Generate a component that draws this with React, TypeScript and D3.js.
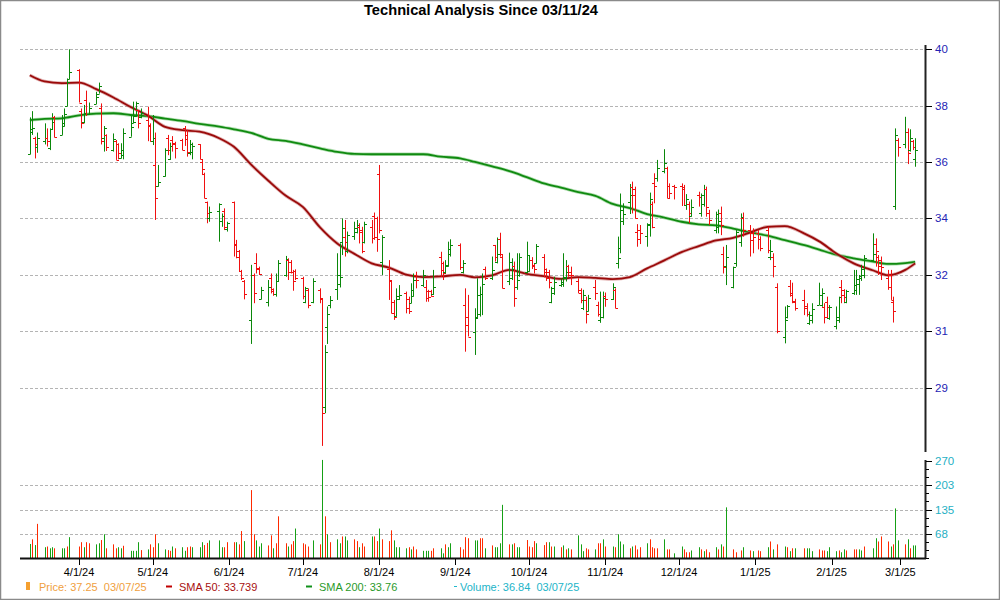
import React from 'react';
import * as d3 from 'd3';

// ---------- DATA ----------
const FIRST_DAY = '2024-03-12';
const LAST_DAY = '2025-03-07';
const HOLIDAYS = ['2024-03-29', '2024-05-27', '2024-07-04', '2024-09-02', '2024-11-28', '2024-12-25', '2025-01-01', '2025-01-09', '2025-01-20', '2025-02-17'];

const open = [
  36.46, 37.20, 37.00, 36.70,
  36.90, 37.00, 36.66, 37.30, 37.70,
  37.11, 37.40, 38.08, 38.98,
  39.30, 37.90, 37.55, 38.30, 37.80,
  38.15, 38.50, 38.00, 37.00, 37.10,
  36.60, 36.90, 36.80, 36.35, 36.60,
  37.05, 37.50, 37.75, 37.95, 37.70,
  37.60, 37.40, 36.90, 36.10, 35.40,
  35.73, 37.00, 36.30, 36.95, 36.80,
  36.95, 37.33, 37.10, 36.50, 36.55,
  36.80, 36.20, 35.80, 34.85, 34.30,
  34.55, 34.20, 34.55, 33.95,
  34.87, 33.45, 33.20, 32.55, 32.20,
  30.90, 32.40, 32.80, 32.65, 31.60,
  31.50, 32.30, 31.93, 31.75, 32.20,
  32.40, 32.90, 32.85, 32.50, 32.55,
  32.30, 31.50, 31.90, 31.50,
  31.90, 31.60, 27.97, 30.64, 31.40,
  31.92, 32.10, 33.50, 33.69, 33.20,
  33.70, 33.85, 34.00, 33.90, 33.50,
  34.00, 34.40, 34.30, 35.80, 32.83,
  32.60, 32.20, 31.50, 31.03, 31.60,
  31.78, 31.60, 31.45, 31.70, 32.40,
  32.05, 32.00, 31.85, 31.85, 31.75,
  33.00, 32.57, 32.50, 32.70, 33.10,
  33.40, 32.50, 31.39, 31.00,
  30.47, 31.00, 31.10, 31.75, 32.60,
  32.30, 33.40, 32.85, 33.60, 33.00,
  32.20, 32.30, 32.70, 32.00, 32.40,
  32.50, 32.55, 32.90, 32.70, 32.80,
  33.00, 32.60, 32.50, 31.50, 31.80,
  32.05, 32.10, 32.30, 32.70, 32.50,
  32.20, 31.80, 31.30, 31.55, 31.20,
  32.00, 31.40, 30.90, 31.00, 31.70,
  31.60, 31.90, 32.80, 33.30, 34.20,
  34.85, 35.35, 35.30, 33.85, 33.90,
  33.70, 34.10, 34.80, 35.50, 35.65,
  35.90, 36.00, 35.40, 35.40,
  35.40, 35.35, 34.75, 34.80, 34.40,
  35.10, 34.50, 34.80, 35.30, 34.50,
  33.90, 34.00, 34.50, 33.10, 32.70,
  32.00, 32.80, 33.50, 34.30,
  33.90, 33.80, 33.80, 33.60,
  33.90, 33.00, 33.00, 32.00,
  30.33, 31.00, 32.03, 31.72, 31.50,
  31.55, 31.35, 30.77, 30.90,
  31.40, 31.40, 31.33, 31.50, 30.95,
  30.70, 30.90, 32.00, 31.90, 31.50,
  31.80, 31.90, 32.10, 32.30, 32.40,
  32.90, 33.45, 33.00, 32.90,
  32.30, 32.40, 31.50, 34.72, 36.95,
  36.80, 37.20, 36.60, 36.90, 36.30,
];

const high = [
  37.70, 37.91, 37.05, 37.19,
  37.50, 37.33, 37.33, 37.84, 37.75,
  37.78, 38.00, 39.01, 39.99,
  39.32, 38.00, 38.12, 38.60, 38.20,
  38.56, 38.87, 38.17, 37.41, 37.13,
  37.16, 36.94, 36.83, 36.83, 37.33,
  37.75, 38.23, 38.23, 37.95, 38.00,
  38.06, 37.50, 37.78, 37.19, 36.10,
  36.66, 37.11, 36.85, 37.07, 36.88,
  36.98, 37.41, 37.28, 36.94, 36.85,
  36.80, 36.29, 35.84, 34.87, 34.70,
  34.81, 34.47, 34.64, 34.19,
  34.87, 33.58, 33.24, 32.57, 32.23,
  32.74, 32.45, 33.13, 32.68, 32.00,
  32.23, 32.45, 31.95, 32.45, 32.90,
  33.04, 32.96, 32.90, 32.57, 32.59,
  32.34, 32.00, 31.95, 32.29,
  31.95, 31.61, 30.04, 31.34, 31.69,
  33.13, 33.46, 34.30, 34.25, 33.86,
  34.19, 34.25, 34.14, 34.02, 34.19,
  34.25, 34.50, 34.36, 36.10, 33.74,
  32.90, 32.23, 31.56, 31.95, 32.06,
  31.84, 31.67, 32.12, 32.45, 32.51,
  32.57, 32.23, 31.90, 31.90, 32.57,
  33.18, 32.85, 32.90, 33.52, 33.60,
  33.46, 32.90, 31.95, 31.73,
  31.28, 32.29, 32.01, 32.45, 32.68,
  33.02, 33.41, 33.66, 33.82, 33.07,
  33.15, 32.96, 32.85, 33.13, 33.13,
  33.52, 33.07, 33.00, 32.79, 33.44,
  33.10, 32.62, 32.57, 32.00, 32.34,
  32.29, 33.13, 32.90, 32.74, 32.68,
  32.29, 31.95, 31.90, 31.67, 31.73,
  32.23, 31.50, 31.84, 31.84, 31.81,
  32.12, 31.95, 33.69, 35.14, 34.81,
  35.46, 35.54, 35.37, 34.11, 34.08,
  34.14, 35.17, 34.87, 35.82, 36.27,
  36.63, 36.04, 35.48, 35.43,
  35.48, 35.43, 35.12, 34.87, 34.94,
  35.20, 35.14, 35.43, 35.37, 34.59,
  34.53, 34.60, 34.70, 33.35, 33.41,
  32.68, 33.91, 34.47, 34.50,
  34.08, 33.97, 33.91, 33.70,
  34.02, 33.58, 33.13, 32.12,
  31.34, 31.39, 32.23, 32.14, 31.60,
  31.90, 31.45, 31.17, 31.45,
  32.14, 31.95, 31.45, 31.67, 31.39,
  31.34, 31.67, 32.23, 31.92, 31.90,
  32.57, 32.57, 32.40, 32.74, 33.07,
  33.80, 33.63, 33.07, 33.02,
  32.57, 32.57, 31.67, 37.33, 37.00,
  37.72, 37.33, 37.30, 36.94, 37.00,
];

const low = [
  36.46, 37.11, 36.32, 36.51,
  36.79, 36.72, 36.60, 37.30, 37.03,
  37.11, 37.39, 38.08, 38.98,
  38.20, 37.33, 37.50, 37.75, 37.78,
  38.15, 38.50, 36.79, 36.55, 36.57,
  36.55, 36.27, 36.29, 36.32, 36.29,
  37.05, 37.50, 37.72, 37.33, 37.67,
  36.90, 36.88, 36.77, 34.25, 35.37,
  35.71, 36.43, 36.27, 36.55, 36.32,
  36.60, 36.74, 36.38, 36.43, 36.29,
  36.29, 35.76, 34.98, 34.14, 34.19,
  33.52, 34.02, 33.91, 33.86,
  33.02, 32.96, 32.51, 32.23, 31.58,
  30.08, 31.45, 32.45, 32.40, 31.58,
  31.34, 31.78, 31.70, 31.67, 32.18,
  32.34, 32.23, 32.45, 31.87, 32.23,
  31.58, 31.45, 31.28, 31.45,
  31.45, 26.65, 27.75, 30.08, 31.28,
  31.56, 31.98, 33.07, 33.02, 33.13,
  33.58, 33.80, 33.46, 33.13, 33.46,
  33.46, 33.58, 33.18, 33.80, 32.40,
  31.56, 31.11, 30.89, 31.00, 31.56,
  31.11, 31.09, 31.45, 31.67, 31.95,
  32.00, 31.50, 31.50, 31.67, 31.73,
  32.34, 32.23, 32.45, 32.68, 33.02,
  32.57, 32.45, 29.82, 30.33,
  29.71, 30.94, 31.00, 31.05, 32.23,
  32.23, 32.85, 32.79, 33.02, 31.95,
  32.06, 32.23, 31.33, 31.90, 32.34,
  32.45, 32.51, 32.60, 32.45, 32.79,
  32.32, 32.20, 31.95, 31.45, 31.73,
  32.00, 32.00, 32.18, 32.34, 32.06,
  31.78, 31.45, 31.22, 30.77, 31.17,
  31.56, 31.00, 30.79, 30.94, 31.33,
  31.56, 31.28, 32.62, 33.13, 34.08,
  34.45, 34.47, 34.30, 33.35, 33.44,
  33.35, 33.69, 33.97, 34.81, 35.54,
  35.82, 34.98, 34.98, 34.94,
  34.72, 34.75, 34.59, 34.14, 34.36,
  34.70, 34.36, 34.70, 34.36, 34.08,
  33.80, 33.80, 33.74, 32.45, 32.06,
  31.95, 32.68, 33.35, 33.69,
  33.02, 33.13, 33.26, 33.20,
  33.13, 32.90, 32.32, 30.44,
  30.10, 30.94, 31.67, 31.45, 31.20,
  31.05, 31.00, 30.72, 30.77,
  31.39, 31.33, 30.77, 30.94, 30.89,
  30.57, 30.79, 31.45, 31.45, 31.45,
  31.73, 31.73, 31.73, 32.20, 32.29,
  32.85, 32.68, 32.40, 32.23,
  31.90, 31.56, 30.80, 34.59, 36.38,
  36.66, 36.13, 36.55, 36.60, 36.04,
];

const close = [
  37.30, 37.35, 36.80, 37.00,
  37.00, 36.90, 37.30, 37.55, 37.03,
  37.50, 37.80, 38.90, 39.24,
  38.20, 37.50, 37.85, 37.80, 38.00,
  38.40, 38.75, 36.90, 37.33, 36.70,
  36.96, 36.27, 36.50, 36.45, 37.16,
  37.37, 37.55, 38.20, 37.50, 37.85,
  37.45, 36.90, 37.00, 35.00, 35.54,
  36.62, 36.60, 36.75, 36.85, 36.66,
  36.62, 36.99, 36.55, 36.80, 36.75,
  36.30, 35.98, 34.98, 34.50, 34.53,
  34.78, 34.40, 34.00, 34.15,
  33.40, 33.00, 32.55, 32.30, 31.75,
  32.40, 31.78, 32.60, 32.42, 31.90,
  32.00, 31.85, 31.75, 32.20, 32.80,
  32.95, 32.50, 32.50, 32.20, 32.30,
  31.70, 31.95, 31.40, 32.20,
  31.61, 27.77, 29.80, 31.10, 31.55,
  32.40, 32.32, 33.97, 33.52, 33.74,
  33.97, 34.08, 33.85, 33.22, 34.11,
  33.63, 33.69, 33.60, 33.90, 33.69,
  32.23, 31.11, 31.00, 31.68, 31.73,
  31.30, 31.20, 31.90, 32.23, 32.23,
  32.40, 31.61, 31.67, 31.70, 32.00,
  32.79, 32.45, 32.73, 33.26, 33.41,
  32.68, 32.81, 30.72, 30.33,
  30.96, 31.73, 31.75, 32.10, 32.30,
  32.57, 33.00, 33.12, 33.10, 31.95,
  32.85, 32.60, 31.61, 32.23, 33.00,
  33.07, 32.90, 32.75, 32.60, 33.37,
  32.50, 32.30, 32.17, 31.95, 32.17,
  32.17, 32.34, 32.51, 32.40, 32.40,
  31.90, 31.55, 31.73, 31.10, 31.61,
  31.80, 31.10, 31.00, 31.61, 31.60,
  32.00, 31.28, 32.96, 34.60, 34.45,
  35.10, 35.10, 34.30, 33.60, 33.80,
  34.08, 34.95, 34.00, 35.38, 36.00,
  36.15, 35.00, 35.15, 35.35,
  35.30, 34.75, 34.97, 34.50, 34.70,
  35.03, 35.10, 35.30, 34.70, 34.25,
  34.45, 34.20, 34.08, 32.68, 33.00,
  32.66, 33.86, 34.36, 33.90,
  33.58, 33.69, 33.60, 33.30,
  33.24, 33.20, 32.70, 30.50,
  30.90, 31.35, 31.78, 31.53, 31.30,
  31.30, 31.09, 31.05, 31.25,
  31.73, 31.78, 31.00, 31.33, 31.33,
  31.00, 31.67, 31.73, 31.67, 31.87,
  32.06, 32.25, 32.35, 32.60, 32.96,
  33.10, 33.20, 32.70, 32.68,
  32.00, 31.56, 31.19, 37.10, 36.70,
  37.20, 36.50, 37.00, 36.70, 36.62,
];

const volume = [
  39, 52, 36, 95,
  30, 32, 27, 30, 27,
  27, 27, 32, 58,
  32, 44, 30, 44, 41,
  38, 41, 50, 66, 27,
  38, 27, 30, 27, 34,
  20, 20, 20, 44, 22,
  24, 38, 30, 66, 41,
  24, 22, 20, 32, 27,
  30, 20, 30, 32, 30,
  30, 44, 36, 42, 49,
  49, 30, 30, 44,
  44, 44, 38, 75, 47,
  189, 66, 49, 32, 41,
  35, 63, 27, 41, 116,
  41, 32, 38, 47, 82,
  41, 38, 32, 49,
  38, 273, 116, 66, 44,
  52, 41, 60, 60, 49,
  52, 47, 30, 41, 32,
  60, 60, 47, 82, 52,
  47, 77, 49, 30, 30,
  27, 30, 24, 32, 24,
  20, 20, 20, 20, 27,
  27, 13, 38, 30, 41,
  30, 24, 58, 55,
  49, 49, 55, 55, 27,
  35, 30, 30, 41, 148,
  38, 38, 41, 30, 30,
  50, 32, 30, 47, 41,
  36, 44, 44, 32, 32,
  30, 35, 24, 27, 24,
  63, 38, 19, 27, 24,
  24, 41, 41, 52, 32,
  32, 30, 66, 46, 38,
  27, 32, 35, 24, 30,
  41, 52, 30, 27, 27,
  52, 24, 24, 13,
  32, 24, 16, 16, 21,
  30, 24, 19, 24, 16,
  30, 24, 38, 32, 141,
  24, 16, 21, 30,
  21, 19, 21, 19,
  30, 46, 24, 38,
  32, 30, 19, 27, 27,
  27, 27, 27, 19,
  24, 21, 21, 19, 30,
  19, 21, 16, 24, 21,
  24, 24, 24, 21, 32,
  27, 55, 46, 60,
  46, 32, 38, 138, 49,
  38, 52, 27, 35, 35,
];

// 1 = up (green) volume bar, 0 = down (red)
const volumeUp = [
  1, 0, 1, 0,
  1, 0, 1, 1, 0,
  1, 1, 0, 1,
  0, 0, 1, 0, 0,
  1, 1, 0, 1, 0,
  0, 0, 1, 1, 0,
  1, 1, 1, 1, 0,
  1, 0, 0, 0, 1,
  1, 0, 0, 1, 0,
  1, 1, 0, 0, 1,
  1, 1, 0, 0, 1,
  1, 1, 0, 0,
  0, 1, 0, 0, 1,
  0, 0, 1, 1, 1,
  0, 0, 1, 0, 0,
  0, 1, 0, 0, 1,
  0, 0, 0, 1,
  0, 1, 0, 1, 0,
  1, 1, 0, 1, 1,
  0, 0, 1, 0, 0,
  1, 0, 0, 1, 0,
  0, 0, 1, 1, 1,
  1, 0, 1, 0, 0,
  1, 1, 1, 0, 0,
  1, 1, 0, 1, 1,
  0, 0, 0, 0,
  1, 1, 0, 0, 1,
  0, 1, 1, 1, 1,
  0, 1, 0, 1, 1,
  0, 0, 0, 0, 1,
  0, 0, 1, 0, 1,
  0, 1, 0, 1, 0,
  1, 1, 1, 0, 0,
  1, 0, 0, 1, 0,
  1, 0, 1, 1, 1,
  0, 1, 0, 0, 0,
  1, 0, 0, 0, 0,
  1, 0, 0, 1,
  1, 0, 0, 0, 1,
  1, 0, 1, 0, 0,
  1, 0, 1, 0, 1,
  0, 0, 0, 1,
  0, 1, 0, 0,
  1, 0, 1, 0,
  1, 0, 1, 0, 1,
  0, 1, 1, 1,
  0, 0, 0, 1, 1,
  1, 0, 1, 1, 0,
  0, 0, 1, 1, 0,
  1, 1, 0, 0,
  0, 1, 0, 1, 1,
  0, 1, 0, 1, 1,
];

const smaDates = [
  '2024-03-12', '2024-03-18', '2024-03-25', '2024-04-01', '2024-04-08', '2024-04-15', '2024-04-22', '2024-04-29',
  '2024-05-06', '2024-05-13', '2024-05-20', '2024-05-28', '2024-06-03', '2024-06-10', '2024-06-17', '2024-06-24',
  '2024-07-01', '2024-07-08', '2024-07-15', '2024-07-22', '2024-07-29', '2024-08-05', '2024-08-12', '2024-08-19',
  '2024-08-26', '2024-09-03', '2024-09-09', '2024-09-16', '2024-09-23', '2024-09-30', '2024-10-07', '2024-10-14',
  '2024-10-21', '2024-10-28', '2024-11-04', '2024-11-11', '2024-11-18', '2024-11-25', '2024-12-02', '2024-12-09',
  '2024-12-16', '2024-12-23', '2024-12-30', '2025-01-06', '2025-01-13', '2025-01-21', '2025-01-27', '2025-02-03',
  '2025-02-10', '2025-02-18', '2025-02-24', '2025-03-03', '2025-03-07',
];
const sma50 = [
  39.12, 38.91, 38.85, 38.87, 38.65, 38.37, 38.05, 37.76, 37.38, 37.27, 37.22, 37.00, 36.71, 36.11, 35.57, 35.07,
  34.69, 34.00, 33.46, 33.11, 32.79, 32.65, 32.41, 32.33, 32.35, 32.40, 32.32, 32.39, 32.57, 32.44, 32.36, 32.27,
  32.33, 32.30, 32.26, 32.33, 32.62, 32.89, 33.17, 33.37, 33.56, 33.65, 33.83, 34.02, 34.04, 33.79, 33.53, 33.12,
  32.79, 32.55, 32.39, 32.57, 32.79,
];
const sma200 = [
  37.61, 37.65, 37.67, 37.77, 37.83, 37.84, 37.78, 37.74, 37.66, 37.58, 37.48, 37.39, 37.30, 37.18, 36.98, 36.91,
  36.79, 36.66, 36.54, 36.47, 36.46, 36.46, 36.46, 36.46, 36.38, 36.32, 36.20, 36.05, 35.89, 35.69, 35.48, 35.34,
  35.19, 35.06, 34.79, 34.65, 34.45, 34.33, 34.19, 34.10, 34.07, 33.96, 33.83, 33.72, 33.57, 33.40, 33.25, 33.08,
  32.96, 32.85, 32.77, 32.80, 32.84,
];

const priceTicks = [40, 38.1, 36.2, 34.3, 32.4, 30.5, 28.6];
const priceTickLabels = ['40', '38', '36', '34', '32', '31', '29'];
const volumeTicks = [67.5, 135, 202.5, 270];
const volumeTickLabels = ['68', '135', '203', '270'];

const TITLE = 'Technical Analysis Since 03/11/24';
const LEGEND_PRICE = 'Price: 37.25  03/07/25';
const LEGEND_SMA50 = 'SMA 50: 33.739';
const LEGEND_SMA200 = 'SMA 200: 33.76';
const LEGEND_VOLUME = 'Volume: 36.84  03/07/25';

// ---------- CHART ----------
const parse = d3.utcParse('%Y-%m-%d');
const fmtDay = d3.utcFormat('%Y-%m-%d');
const fmtMonth = d3.utcFormat('%-m/%-d/%y');

const GREEN = '#0a870a';
const RED = '#f01010';
const FONT = '"Liberation Sans", Arial, Helvetica, sans-serif';

function tradingDays(): Date[] {
  const hol = new Set(HOLIDAYS);
  const start = parse(FIRST_DAY) as Date;
  const end = d3.utcDay.offset(parse(LAST_DAY) as Date, 1);
  return d3.utcDay.range(start, end).filter((d) => {
    const wd = d.getUTCDay();
    return wd !== 0 && wd !== 6 && !hol.has(fmtDay(d));
  });
}

export default function App() {
  const W = 1000;
  const H = 600;
  const left = 20;
  const right = 925;

  const dates = tradingDays();
  const x = d3.scaleUtc().domain([Date.UTC(2024, 2, 8), Date.UTC(2025, 2, 11)]).range([left, right]);
  const yP = d3.scaleLinear().domain([26.58, 40.135]).range([448, 45]);
  const yV = d3.scaleLinear().domain([0, 270]).range([558, 461]);

  const months = d3.utcMonth.range(new Date(Date.UTC(2024, 3, 1)), new Date(Date.UTC(2025, 2, 2)));
  const smaPts = smaDates.map((s) => parse(s) as Date);

  const line = d3
    .line<number>()
    .x((_, i) => x(smaPts[i]))
    .y((v) => yP(v))
    .curve(d3.curveMonotoneX);

  const n = Math.min(dates.length, open.length);
  const bars = [];
  const vols = [];
  for (let i = 0; i < n; i++) {
    const cx = Math.round(x(dates[i])) + 0.5;
    const up = close[i] >= open[i];
    const col = up ? GREEN : RED;
    bars.push(
      <g key={'b' + i} stroke={col} strokeWidth={1}>
        <line x1={cx} x2={cx} y1={yP(high[i])} y2={yP(low[i])} />
        <line x1={cx - 2.5} x2={cx} y1={Math.round(yP(open[i])) + 0.5} y2={Math.round(yP(open[i])) + 0.5} />
        <line x1={cx} x2={cx + 2.5} y1={Math.round(yP(close[i])) + 0.5} y2={Math.round(yP(close[i])) + 0.5} />
      </g>
    );
    vols.push(
      <line
        key={'v' + i}
        x1={cx}
        x2={cx}
        y1={yV(0)}
        y2={yV(volume[i])}
        stroke={volumeUp[i] ? '#15a015' : '#ff2a00'}
        strokeWidth={1}
      />
    );
  }

  const minorVol = d3.range(0, 270.01, 22.5);

  return (
    <div style={{ position: 'absolute', left: 0, top: 0 }}>
      <svg width={W} height={H} style={{ display: 'block', background: '#fff' }} fontFamily={FONT}>
        <rect x={0.5} y={0.5} width={W - 1} height={H - 1} fill="#fff" stroke="#8a8a8a" strokeWidth={1.5} />

        <text
          x={481}
          y={15}
          textAnchor="middle"
          fontSize={15.5}
          fontWeight="bold"
          fontFamily='"Liberation Sans Narrow", "Arial Narrow", "Liberation Sans", Arial, sans-serif'
          textLength={234}
          lengthAdjust="spacingAndGlyphs"
          fill="#000"
        >
          {TITLE}
        </text>

        {/* price gridlines */}
        {priceTicks.map((t, i) => (
          <line
            key={'pg' + i}
            x1={left}
            x2={right}
            y1={Math.round(yP(t)) + 0.5}
            y2={Math.round(yP(t)) + 0.5}
            stroke="#b4b4b4"
            strokeDasharray="3,2"
          />
        ))}
        {/* volume gridlines */}
        {volumeTicks.slice(0, 3).map((t, i) => (
          <line
            key={'vg' + i}
            x1={left}
            x2={right}
            y1={Math.round(yV(t)) + 0.5}
            y2={Math.round(yV(t)) + 0.5}
            stroke="#b4b4b4"
            strokeDasharray="3,2"
          />
        ))}

        {/* volume bars */}
        <g>{vols}</g>

        {/* SMA lines */}
        <path d={line(sma200) || ''} fill="none" stroke="#8fd08f" strokeWidth={3.4} strokeOpacity={0.7} />
        <path d={line(sma200) || ''} fill="none" stroke="#108a10" strokeWidth={1.8} />
        <path d={line(sma50) || ''} fill="none" stroke="#c87070" strokeWidth={3.4} strokeOpacity={0.55} />
        <path d={line(sma50) || ''} fill="none" stroke="#9a0a0a" strokeWidth={1.8} />

        {/* price bars */}
        <g>{bars}</g>

        {/* price axis */}
        <line x1={925.5} x2={925.5} y1={45} y2={452} stroke="#222" strokeWidth={2} />
        {priceTicks.map((t, i) => (
          <g key={'pt' + i}>
            <line x1={926} x2={932} y1={Math.round(yP(t)) + 0.5} y2={Math.round(yP(t)) + 0.5} stroke="#000" />
            <text x={935} y={yP(t) + 4} fontSize={11.5} fill="#2323b4">
              {priceTickLabels[i]}
            </text>
          </g>
        ))}

        {/* volume axis */}
        <line x1={925.5} x2={925.5} y1={460} y2={559} stroke="#222" strokeWidth={2} />
        {minorVol.map((t, i) => (
          <line key={'vm' + i} x1={926} x2={929} y1={Math.round(yV(t)) + 0.5} y2={Math.round(yV(t)) + 0.5} stroke="#000" />
        ))}
        {volumeTicks.map((t, i) => (
          <g key={'vt' + i}>
            <line x1={926} x2={932} y1={Math.round(yV(t)) + 0.5} y2={Math.round(yV(t)) + 0.5} stroke="#000" />
            <text x={935} y={yV(t) + 4} fontSize={11.5} fill="#1fb0c4">
              {volumeTickLabels[i]}
            </text>
          </g>
        ))}

        {/* volume baseline + time axis */}
        <line x1={left} x2={926} y1={558.5} y2={558.5} stroke="#111" strokeWidth={2} />
        {months.map((m, i) => (
          <g key={'m' + i}>
            <line x1={Math.round(x(m)) + 0.5} x2={Math.round(x(m)) + 0.5} y1={559} y2={565} stroke="#000" />
            <text x={x(m)} y={576} fontSize={11} textAnchor="middle" fill="#000">
              {fmtMonth(m)}
            </text>
          </g>
        ))}

        {/* legend */}
        <rect x={26} y={582} width={4} height={8} fill="#f5a030" />
        <text x={39} y={591} fontSize={11} fill="#f0a040" xmlSpace="preserve">
          {LEGEND_PRICE}
        </text>
        <line x1={166} x2={172} y1={586.5} y2={586.5} stroke="#c00000" strokeWidth={2} />
        <text x={179} y={591} fontSize={11} fill="#a81010">
          {LEGEND_SMA50}
        </text>
        <line x1={306} x2={312} y1={586.5} y2={586.5} stroke="#10901a" strokeWidth={2} />
        <text x={319} y={591} fontSize={11} fill="#2a9a2a">
          {LEGEND_SMA200}
        </text>
        <line x1={454} x2={457} y1={586.5} y2={586.5} stroke="#20b8cc" strokeWidth={1} />
        <text x={460} y={591} fontSize={11} fill="#22b4c8" xmlSpace="preserve">
          {LEGEND_VOLUME}
        </text>
      </svg>
    </div>
  );
}
